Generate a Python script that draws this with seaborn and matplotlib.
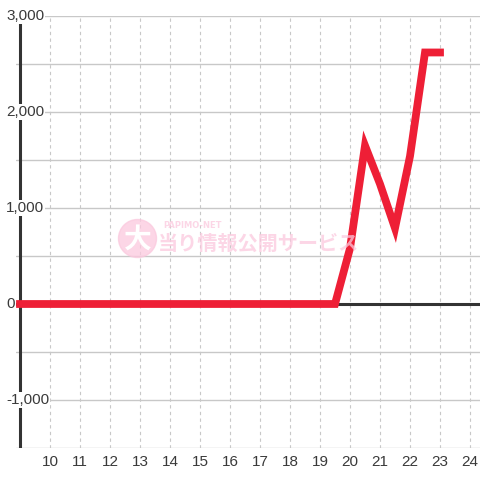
import matplotlib
matplotlib.use("Agg")
import matplotlib.pyplot as plt
import seaborn as sns
import pandas as pd

# values (hour -> balance)
hours = [9, 10, 11, 12, 13, 14, 15, 16, 17, 18, 19, 19.5, 20, 20.5, 21, 21.5, 22, 22.5, 23]
values = [0, 0, 0, 0, 0, 0, 0, 0, 0, 0, 0, 0, 580, 1650, 1250, 790, 1540, 2620, 2620]
x_ticks = list(range(10, 25))
y_ticks = [-1000, 0, 1000, 2000, 3000]
y_labels = ["-1,000", "0", "1,000", "2,000", "3,000"]

df = pd.DataFrame({"hour": hours, "value": values})

sns.set_style("white")
plt.rcParams["font.family"] = ["Liberation Sans", "DejaVu Sans"]

fig = plt.figure(figsize=(4.8, 4.8), dpi=100)
ax = fig.add_axes([16 / 480, 32 / 480, 464 / 480, 432 / 480])

ax.set_xlim(8.867, 24.333)
ax.set_ylim(-1500, 3000)

# grid
for v in range(-1500, 3001, 500):
    ax.axhline(v, color="#c8c8c8", lw=1.0, zorder=1)
for h in x_ticks:
    ax.axvline(h, color="#c8c8c8", lw=0.8, ls=(0, (3, 3)), zorder=1)

# axis lines
ax.axvline(9, color="#333333", lw=2.2, zorder=2)
ax.axhline(0, color="#333333", lw=2.2, zorder=2)

sns.lineplot(data=df, x="hour", y="value", ax=ax, color="#ee1f36",
             lw=5.6, sort=False, zorder=3)
ax.lines[-1].set_solid_capstyle("projecting")
ax.lines[-1].set_solid_joinstyle("miter")

for s in ax.spines.values():
    s.set_visible(False)

ax.set_xticks(x_ticks)
ax.set_xticklabels([str(h) for h in x_ticks])
ax.tick_params(axis="x", length=0, pad=5, labelsize=11, labelcolor="#3a3a3a")
ax.set_yticks([])
ax.set_xlabel("")
ax.set_ylabel("")

ytr = ax.get_yaxis_transform()
for v, lab in zip(y_ticks, y_labels):
    ax.text(-10 / 464, v, lab, transform=ytr, ha="left", va="center",
            fontsize=11, color="#3a3a3a", zorder=5, clip_on=False,
            bbox=dict(facecolor="white", edgecolor="none", pad=0.8))

# watermark (faint, behind the grid)
pink = "#fbc9de"
fig.patches.append(matplotlib.patches.Circle((137.5 / 480, 1 - 238.5 / 480), 19 / 480,
                                             transform=fig.transFigure, color=pink,
                                             alpha=0.75, zorder=0.5))
fig.text(137.5 / 480, 1 - 240 / 480, "大", ha="center", va="center", color="white",
         fontsize=20, fontweight="bold", family=["Noto Sans CJK JP"], zorder=6)
fig.text(163 / 480, 1 - 226 / 480, "PAPIMO-NET", ha="left", va="center", color=pink,
         fontsize=6, fontweight="bold", family=["DejaVu Sans"], alpha=0.75, zorder=6)
fig.text(158 / 480, 1 - 243 / 480, "当り情報公開サービス", ha="left", va="center",
         color=pink, fontsize=14.5, fontweight="bold", family=["Noto Sans CJK JP"],
         alpha=0.75, zorder=6)

fig.savefig("out.png", dpi=100)
